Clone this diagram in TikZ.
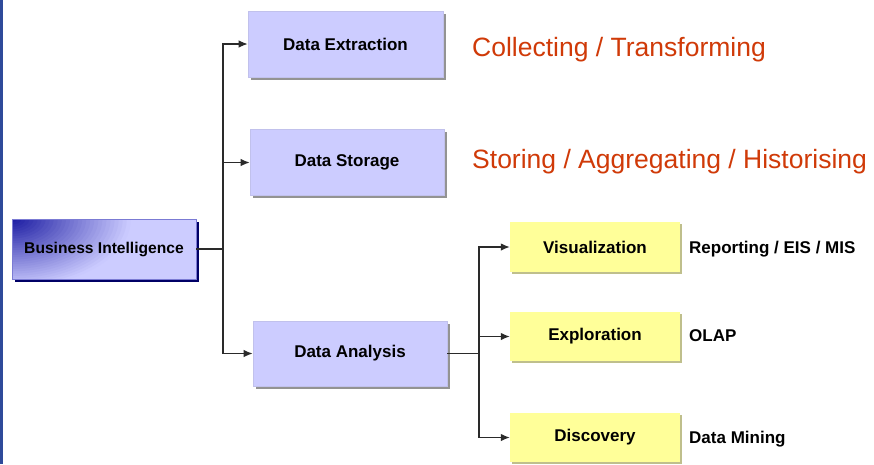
\documentclass[tikz,border=0pt]{standalone}
\usepackage{fontspec}
\setmainfont{Liberation Sans}
\usetikzlibrary{arrows.meta,shadows}

\definecolor{lavender}{HTML}{CCCCFF}
\definecolor{lemon}{HTML}{FFFF99}
\definecolor{navy}{HTML}{1818A0}
\definecolor{navyshadow}{HTML}{000066}
\definecolor{barblue}{HTML}{2E4A9A}
\definecolor{rust}{HTML}{D03A08}
\definecolor{wire}{HTML}{2A2A2A}

\tikzset{
  boxfont/.style={font=\fontsize{17}{20}\selectfont\bfseries},
  bluebox/.style={boxfont, rectangle, fill=lavender, draw=lavender!85!gray,
    line width=0.6pt, inner sep=0pt,
    drop shadow={shadow xshift=2.5pt, shadow yshift=-2.5pt, fill=gray!85, opacity=1}},
  topbox/.style={font=\fontsize{15.6}{18}\selectfont\bfseries, rectangle,
    draw=navy!45!lavender, line width=0.8pt, inner sep=0pt},
  yellowbox/.style={boxfont, rectangle, fill=lemon, inner sep=0pt,
    minimum width=170pt, minimum height=50pt,
    drop shadow={shadow xshift=2pt, shadow yshift=-2pt, fill=lemon!50!gray, opacity=1}},
  note/.style={font=\fontsize{17}{20}\selectfont\bfseries, anchor=base west, inner sep=0pt},
  rednote/.style={font=\fontsize{26.5}{30}\selectfont, text=rust, anchor=base west, inner sep=0pt},
  wireline/.style={draw=wire, line width=1.3pt},
  feed/.style={wireline, -{Latex[length=9pt,width=7.5pt]}},
}

\begin{document}
\begin{tikzpicture}[x=1pt,y=-1pt]
  \useasboundingbox (0,0) rectangle (874,464);
  \fill[white] (0,0) rectangle (874,464);
  % slide edge on the left
  \fill[barblue] (0,0) rectangle (2.6,464);

  % root box: dark offset shadow, then a glow from the top left corner
  \fill[navyshadow] (14.5,221.5) rectangle (198.5,281.5);
  \begin{scope}
    \clip (12,219) rectangle (196,279);
    \fill[lavender] (12,219) rectangle (196,279);
    \foreach \t in {1.0,0.97,...,0.02} {
      \pgfmathsetmacro\p{min(100,max(0,100-112*\t))}
      \fill[navy!\p!lavender] (12,219) ellipse [x radius={135pt*\t}, y radius={78pt*\t}];
    }
  \end{scope}
  \node[topbox, minimum width=184pt, minimum height=60pt] (bi) at (104,249) {Business Intelligence};

  % main boxes
  \node[bluebox, minimum width=195pt, minimum height=66pt] (ext) at (345.5,44) {Data Extraction};
  \node[bluebox, minimum width=194pt, minimum height=66pt] (sto) at (347,162.5) {Data Storage};
  \node[bluebox, minimum width=194pt, minimum height=65pt] (ana) at (350,353.5) {Data Analysis};

  % analysis branches
  \node[yellowbox] (vis) at (595,247) {Visualization};
  \node[yellowbox, minimum height=49pt] (exp) at (595,336.5) {Exploration};
  \node[yellowbox, minimum height=49pt] (dis) at (595,437.5) {Discovery};

  % descriptions
  \node[rednote] (t1) at (472,56) {Collecting / Transforming};
  \node[rednote] (t2) at (472,168) {Storing / Aggregating / Historising};
  \node[note] (n1) at (689,253) {Reporting / EIS / MIS};
  \node[note] (n2) at (689,341) {OLAP};
  \node[note] (n3) at (689,443) {Data Mining};

  % connectors
  \coordinate (j1) at (223,249);
  \coordinate (j2) at (479,353.5);
  \draw[wireline] (bi.east) -- (j1);
  \draw[feed] (j1) |- (ext.west);
  \draw[feed] (j1 |- sto.west) -- (sto.west);
  \draw[feed] (j1) |- (ana.west);

  \draw[wireline] (ana.east) -- (j2);
  \draw[feed] (j2) |- (vis.west);
  \draw[feed] (j2 |- exp.west) -- (exp.west);
  \draw[feed] (j2) |- (dis.west);
\end{tikzpicture}
\end{document}
